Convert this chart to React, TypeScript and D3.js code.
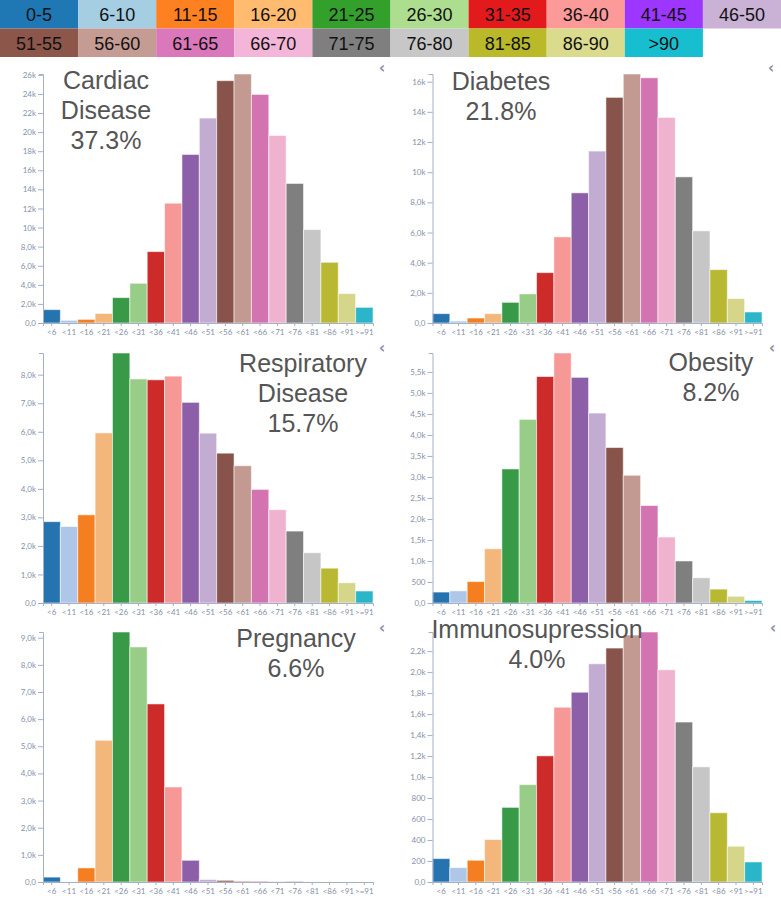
import React, { useEffect, useRef } from "react";
import * as d3 from "d3";

const AGE_LABELS = ["<6","<11","<16","<21","<26","<31","<36","<41","<46","<51","<56","<61","<66","<71","<76","<81","<86","<91",">=91"];
const LEGEND_LABELS = ["0-5","6-10","11-15","16-20","21-25","26-30","31-35","36-40","41-45","46-50","51-55","56-60","61-65","66-70","71-75","76-80","81-85","86-90",">90"];
const LEGEND_COLORS = ["#1f77b4","#a6cee3","#fd8121","#ffbb6f","#33a02c","#addd8e","#e31a1c","#fb9a99","#9d36ff","#cab2d6","#8c564b","#c49c94","#db77bb","#f4b6d8","#7f7f7f","#c7c7c7","#b9b92a","#dbdb8d","#17becf"];
const BAR_COLORS = ["#2574b0","#aec7e8","#f57f20","#f4b77b","#389a47","#98cd88","#cd2a2a","#f69896","#8c5fa8","#c3acd1","#87534a","#c39a92","#d374b0","#f0b3cf","#7f7f7f","#c6c6c6","#b8b833","#d6d68a","#2ab5c8"];

const CARDIAC = [1400,280,380,1000,2660,4160,7480,12550,17660,21470,25390,26090,23950,19650,14620,9790,6360,3080,1640];
const DIABETES = [620,130,330,620,1370,1930,3340,5710,8630,11400,14960,16510,16260,13630,9690,6110,3540,1620,730];
const RESPIRATORY = [2850,2680,3090,5960,8760,7850,7820,7950,7030,5950,5250,4810,3980,3270,2520,1760,1220,710,420];
const OBESITY = [260,290,510,1290,3190,4370,5390,5950,5370,4520,3700,3040,2320,1570,1000,600,330,160,60];
const PREGNANCY = [180,0,520,5220,9210,8660,6560,3500,800,90,60,40,30,20,20,5,0,0,0];
const IMMUNO = [223,137,207,405,711,928,1202,1665,1808,2079,2229,2353,2382,2022,1524,1097,660,341,191];

const TITLES = [["Cardiac","Disease","37.3%"],["Diabetes","21.8%"],["Respiratory","Disease","15.7%"],["Obesity","8.2%"],["Pregnancy","6.6%"],["Immunosupression","4.0%"]];
const SERIES = [CARDIAC, DIABETES, RESPIRATORY, OBESITY, PREGNANCY, IMMUNO];

const PANELS = [
  { x0: 43, x1: 373, y0: 74, y1: 323, tx: 106, ty: 80, chev: [382, 68] },
  { x0: 432.5, x1: 762, y0: 74, y1: 323, tx: 501, ty: 81, chev: [771, 68] },
  { x0: 43, x1: 373, y0: 353, y1: 603, tx: 303, ty: 363, chev: [382, 348] },
  { x0: 432.5, x1: 762, y0: 353, y1: 603, tx: 711, ty: 362, chev: [772, 348] },
  { x0: 43, x1: 373, y0: 632, y1: 882, tx: 296, ty: 638, chev: [382, 628] },
  { x0: 432.5, x1: 762, y0: 632, y1: 882, tx: 537, ty: 629, chev: [773, 628] },
];

const fmt = (v: number) => d3.format(".2s")(v).replace(".", ",");

export default function App() {
  const ref = useRef<SVGSVGElement>(null);
  useEffect(() => {
    const svg = d3.select(ref.current);
    svg.selectAll("*").remove();

    // legend
    const cellW = 781 / 10;
    const cellH = 28.5;
    const lg = svg.append("g");
    LEGEND_LABELS.forEach((lab, i) => {
      const r = Math.floor(i / 10), c = i % 10;
      lg.append("rect").attr("x", c * cellW).attr("y", r * cellH).attr("width", cellW).attr("height", cellH).attr("fill", LEGEND_COLORS[i]);
      lg.append("text").attr("x", c * cellW + cellW / 2).attr("y", r * cellH + cellH / 2 + 1)
        .attr("text-anchor", "middle").attr("dominant-baseline", "central")
        .attr("font-family", "Liberation Sans, Arial, sans-serif").attr("font-size", 18).attr("fill", "#111")
        .text(lab);
    });

    PANELS.forEach((p, i) => {
      const data = SERIES[i];
      const g = svg.append("g");
      const x = d3.scaleBand<string>().domain(AGE_LABELS).range([p.x0, p.x1]).paddingInner(0).paddingOuter(0);
      const y = d3.scaleLinear().domain([0, d3.max(data) as number]).range([p.y1, p.y0]);

      g.selectAll("rect.bar").data(data).enter().append("rect")
        .attr("x", (_d, j) => x(AGE_LABELS[j]) as number)
        .attr("y", (d) => y(d))
        .attr("width", x.bandwidth())
        .attr("height", (d) => p.y1 - y(d))
        .attr("fill", (_d, j) => BAR_COLORS[j])
        .attr("stroke", "rgba(255,255,255,0.55)")
        .attr("stroke-width", 1);

      const yAxis = g.append("g").attr("transform", `translate(${p.x0},0)`)
        .call(d3.axisLeft(y).ticks(10).tickFormat((v: any) => fmt(v)).tickSize(5).tickSizeOuter(4).tickPadding(2));
      const xAxis = g.append("g").attr("transform", `translate(0,${p.y1})`)
        .call(d3.axisBottom(x).tickSize(3).tickSizeOuter(3).tickPadding(3));
      [yAxis, xAxis].forEach((a) => {
        a.selectAll("path").attr("stroke", "#a5afc8");
        a.selectAll("line").attr("stroke", "#a5afc8");
        a.selectAll("text").attr("fill", "#8690a8").attr("font-family", "Lato, sans-serif").attr("font-size", 8);
      });

      // chevron
      g.append("text").attr("x", p.chev[0]).attr("y", p.chev[1]).attr("text-anchor", "middle").attr("dominant-baseline", "central")
        .attr("font-family", "DejaVu Sans, sans-serif").attr("font-size", 15).attr("font-weight", "bold").attr("fill", "#8890a0").text("‹");

      // title
      const lines = TITLES[i];
      lines.forEach((t, k) => {
        g.append("text").attr("x", p.tx).attr("y", p.ty + k * 30).attr("text-anchor", "middle").attr("dominant-baseline", "central")
          .attr("font-family", "Liberation Sans, Arial, sans-serif").attr("font-size", 25).attr("fill", "#555").text(t);
      });
    });
  }, []);
  return (
    <svg ref={ref} width={781} height={899} style={{ position: "absolute", left: 0, top: 0, background: "#fff" }} />
  );
}
